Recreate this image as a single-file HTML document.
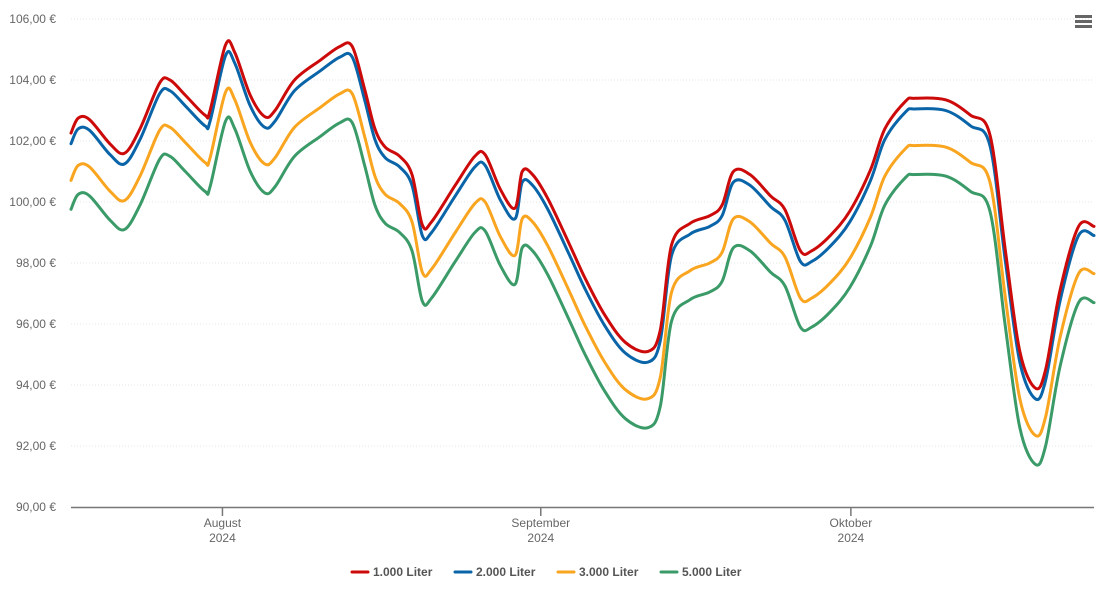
<!DOCTYPE html>
<html><head><meta charset="utf-8"><style>
body{margin:0;background:#fff;font-family:"Liberation Sans",sans-serif;}
svg text{font-family:"Liberation Sans",sans-serif;}
</style></head><body>
<svg id="chart" width="1105" height="602">
<g id="grid"></g><g id="axes"></g><g id="series"></g><g id="legend"></g>
<g>
<rect x="1075" y="15" width="17" height="3" fill="#666"/><rect x="1075" y="20" width="17" height="3" fill="#666"/><rect x="1075" y="25" width="17" height="3" fill="#666"/>
</g>
</svg>
<script>
const days=[0,0.7,1.8,3.8,5.2,6.7,8.6,9.6,11.1,13.0,13.5,15.0,15.9,17.4,18.8,19.8,21.7,24.2,26.1,27.3,28.5,29.5,30.5,31.9,33.1,34.1,35.0,37.3,39.2,40.2,41.7,43.1,43.8,44.8,46.3,48.4,49.9,51.8,53.8,56.0,57.2,58.3,60.1,62.0,63.2,64.3,65.9,67.9,69.3,70.8,71.9,73.7,75.6,77.6,79.0,81.0,81.9,84.9,87.3,89.2,90.7,92.1,93.6,94.6,96.0,97.8,99.3];
const s1000=[102.26,102.75,102.7,101.9,101.6,102.4,103.9,104.0,103.5,102.85,103.0,105.15,104.9,103.5,102.8,103.0,104.0,104.65,105.1,105.1,103.7,102.4,101.8,101.5,100.9,99.25,99.35,100.55,101.5,101.55,100.4,99.8,101.0,100.9,100.1,98.6,97.5,96.3,95.4,95.1,95.8,98.6,99.3,99.55,99.9,101.0,100.9,100.2,99.75,98.4,98.4,98.9,99.7,101.05,102.4,103.3,103.4,103.35,102.85,102.2,98.4,95.1,93.9,94.5,97.1,99.2,99.2];
const s2000=[101.91,102.4,102.35,101.55,101.25,102.05,103.55,103.65,103.15,102.5,102.65,104.8,104.55,103.15,102.45,102.65,103.65,104.3,104.75,104.75,103.35,102.05,101.45,101.15,100.55,98.9,99.0,100.2,101.15,101.2,100.05,99.45,100.65,100.55,99.75,98.25,97.15,95.95,95.05,94.75,95.45,98.25,98.95,99.2,99.55,100.65,100.55,99.85,99.4,98.05,98.05,98.55,99.35,100.7,102.05,102.95,103.05,103.0,102.5,101.85,98.05,94.75,93.55,94.15,96.75,98.9,98.9];
const s3000=[100.71,101.2,101.15,100.35,100.05,100.85,102.35,102.45,101.95,101.3,101.45,103.6,103.35,101.95,101.25,101.45,102.45,103.1,103.55,103.55,102.15,100.85,100.25,99.95,99.35,97.7,97.8,99.0,99.95,100.0,98.85,98.25,99.45,99.35,98.55,97.05,95.95,94.75,93.85,93.55,94.25,97.05,97.75,98.0,98.35,99.45,99.35,98.65,98.2,96.85,96.85,97.35,98.15,99.5,100.85,101.75,101.85,101.8,101.3,100.65,96.85,93.55,92.35,92.95,95.55,97.65,97.65];
const s5000=[99.76,100.25,100.2,99.4,99.1,99.9,101.4,101.5,101.0,100.35,100.5,102.65,102.4,101.0,100.3,100.5,101.5,102.15,102.6,102.6,101.2,99.9,99.3,99.0,98.4,96.75,96.85,98.05,99.0,99.05,97.9,97.3,98.5,98.4,97.6,96.1,95.0,93.8,92.9,92.6,93.3,96.1,96.8,97.05,97.4,98.5,98.4,97.7,97.25,95.9,95.9,96.4,97.2,98.55,99.9,100.8,100.9,100.85,100.35,99.7,95.9,92.6,91.4,92.0,94.6,96.7,96.7];
const seriesNames=["1.000 Liter","2.000 Liter","3.000 Liter","5.000 Liter"];
const yTicks=[90,92,94,96,98,100,102,104,106];
const xTickDays=[14.7,45.6,75.7];
const xTickLabels=["August","September","Oktober"];
const xTickYears=["2024","2024","2024"];

const NS="http://www.w3.org/2000/svg";
const X0=71,X1=1094,Y0=507,Y1=19;
const xs=d=>X0+(d-0)/(99.3)*(X1-X0);
const ys=v=>Y0-(v-90)/(106-90)*(Y0-Y1);
function mk(tag,attrs,parent){const e=document.createElementNS(NS,tag);for(const k in attrs)e.setAttribute(k,attrs[k]);parent.appendChild(e);return e;}
const grid=document.getElementById('grid'),axes=document.getElementById('axes'),sg=document.getElementById('series'),lg=document.getElementById('legend');
yTicks.forEach(v=>{
  if(v>90){const l=mk('line',{x1:X0,x2:X1,y1:ys(v),y2:ys(v),stroke:'#e6e6e6','stroke-width':1,'stroke-dasharray':'1,2'},grid);
  
  }
  const t=mk('text',{x:56,y:ys(v)+4,'text-anchor':'end','font-size':12,fill:'#666'},axes);
  t.textContent=v.toFixed(2).replace('.',',')+' €';
  
  
});
const ax=mk('line',{x1:X0,x2:X1,y1:Y0+0.5,y2:Y0+0.5,stroke:'#777','stroke-width':1.5},axes);


xTickDays.forEach((d,i)=>{
  const x=xs(d);
  const tk=mk('line',{x1:x,x2:x,y1:Y0,y2:Y0+9,stroke:'#777','stroke-width':1.5},axes);
  
  
  const t=mk('text',{x:x,y:527,'text-anchor':'middle','font-size':12,fill:'#666'},axes);
  t.textContent=xTickLabels[i];
  
  
  const t2=mk('text',{x:x,y:542,'text-anchor':'middle','font-size':12,fill:'#666'},axes);
  t2.textContent=xTickYears[i];
  
  
});
function pathFor(vals){
  const p=days.map((d,i)=>[xs(d),ys(vals[i])]);
  let s='M'+p[0][0]+','+p[0][1];
  for(let i=0;i<p.length-1;i++){
    const a=p[Math.max(0,i-1)],b=p[i],c=p[i+1],e=p[Math.min(p.length-1,i+2)];
    const c1x=b[0]+(c[0]-a[0])/6,c1y=b[1]+(c[1]-a[1])/6;
    const c2x=c[0]-(e[0]-b[0])/6,c2y=c[1]-(e[1]-b[1])/6;
    s+=' C'+c1x+','+c1y+' '+c2x+','+c2y+' '+c[0]+','+c[1];
  }
  return s;
}
const allSeries=[s1000,s2000,s3000,s5000];
const colors=['#cc0a0a','#0a64a8','#f9a51f','#3a9b68'];
for(let k=3;k>=0;k--){
  const pth=mk('path',{d:pathFor(allSeries[k]),fill:'none',stroke:colors[k],'stroke-width':3,'stroke-linejoin':'round','stroke-linecap':'round'},sg);
  
  
}
const lx=[352,455,558,661];
seriesNames.forEach((n,i)=>{
  const g=mk('g',{},lg);
  
  
  mk('line',{x1:lx[i],x2:lx[i]+16,y1:572,y2:572,stroke:colors[i],'stroke-width':3,'stroke-linecap':'round'},g);
  const t=mk('text',{x:lx[i]+21,y:576,'font-size':12,'font-weight':'bold',fill:'#555'},g);
  t.textContent=n;
});
</script>
</body></html>
